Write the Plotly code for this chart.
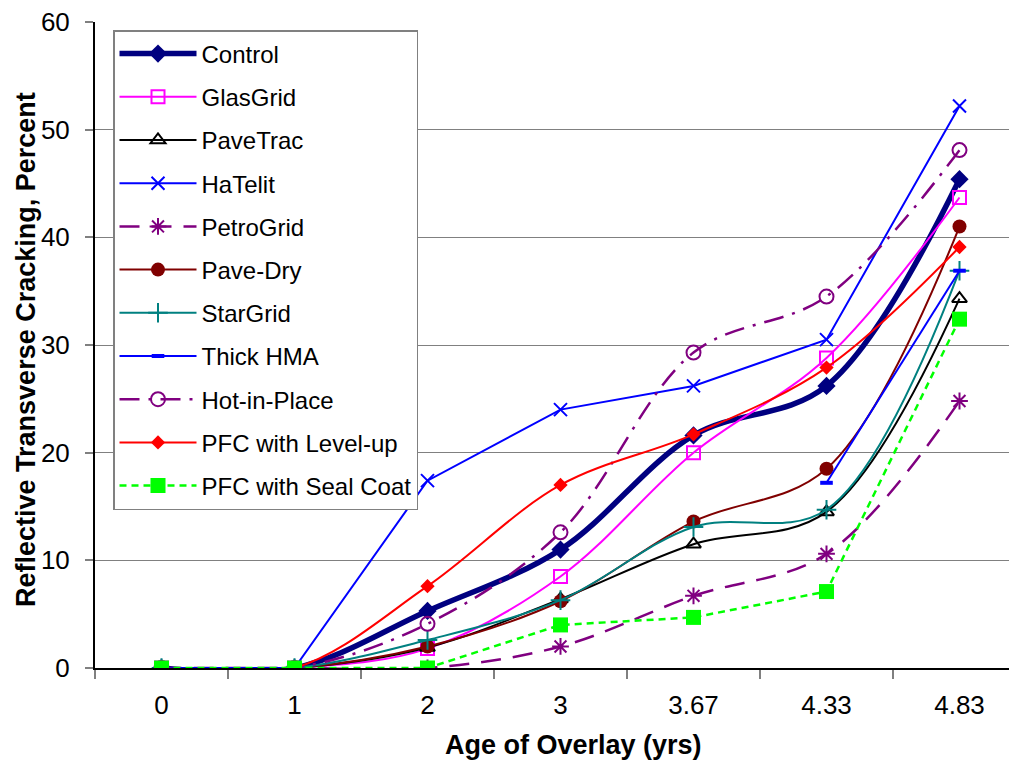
import plotly.graph_objects as go

# ---- data ----
x_labels = ["0", "1", "2", "3", "3.67", "4.33", "4.83"]
control = [0, 0, 5.3, 11.0, 21.6, 26.2, 45.4]
glasgrid = [0, 0, 1.8, 8.5, 20.0, 28.8, 43.7]
pavetrac = [0, 0, 1.9, 6.4, 11.5, 14.5, 34.3]
hatelit = [0, 0, 17.4, 24.0, 26.2, 30.5, 52.2]
petrogrid = [0, 0, 0, 2.0, 6.7, 10.6, 24.8]
pavedry = [0, 0, 2.0, 6.2, 13.6, 18.5, 41.0]
stargrid = [0, 0, 2.6, 6.3, 13.1, 14.7, 36.9]
thickhma = [0, 0, None, None, None, 17.2, 36.9]
hotinplace = [0, 0, 4.1, 12.6, 29.3, 34.5, 48.1]
pfc_levelup = [0, 0, 7.6, 17.0, 21.7, 27.9, 39.1]
pfc_sealcoat = [0, 0, 0, 4.0, 4.7, 7.1, 32.4]

y_ticks = [0, 10, 20, 30, 40, 50, 60]

series = [
    ("Control", control, dict(color="#000080", width=5.5), "spline",
     dict(symbol="diamond", size=14, color="#000080")),
    ("GlasGrid", glasgrid, dict(color="#FF00FF", width=2), "spline",
     dict(symbol="square-open", size=13, color="#FF00FF", line=dict(width=2, color="#FF00FF"))),
    ("PaveTrac", pavetrac, dict(color="#000000", width=2), "spline",
     dict(symbol="triangle-up-open", size=13, color="#000000", line=dict(width=2, color="#000000"))),
    ("HaTelit", hatelit, dict(color="#0000FF", width=2), "linear",
     dict(symbol="x-thin-open", size=13, color="#0000FF", line=dict(width=2, color="#0000FF"))),
    ("PetroGrid", petrogrid, dict(color="#800080", width=2.5, dash="20px,12px"), "spline",
     dict(symbol="asterisk-open", size=14, color="#800080", line=dict(width=2, color="#800080"))),
    ("Pave-Dry", pavedry, dict(color="#800000", width=2), "spline",
     dict(symbol="circle", size=14, color="#800000")),
    ("StarGrid", stargrid, dict(color="#008080", width=2), "spline",
     dict(symbol="cross-thin-open", size=14, color="#008080", line=dict(width=2, color="#008080"))),
    ("Thick HMA", thickhma, dict(color="#0000FF", width=2), "linear",
     dict(symbol="line-ew-open", size=9, color="#0000FF", line=dict(width=4, color="#0000FF"))),
    ("Hot-in-Place", hotinplace, dict(color="#800080", width=2.5, dash="20px,9px,3px,9px"), "spline",
     dict(symbol="circle-open", size=14, color="#800080", line=dict(width=2, color="#800080"))),
    ("PFC with Level-up", pfc_levelup, dict(color="#FF0000", width=2), "spline",
     dict(symbol="diamond", size=11, color="#FF0000")),
    ("PFC with Seal Coat", pfc_sealcoat, dict(color="#00FF00", width=2.5, dash="7px,5px"), "linear",
     dict(symbol="square", size=15, color="#00FF00")),
]

fig = go.Figure()
for i, (name, vals, line, shape, marker) in enumerate(series):
    line = dict(line)
    line["shape"] = shape
    if shape == "spline":
        line["smoothing"] = 1.0
    fig.add_trace(go.Scatter(
        x=x_labels, y=vals, name=name, mode="lines+markers",
        line=line, marker=marker, connectgaps=False,
        legendgroup="g%d" % i,
    ))

font_family = "Liberation Sans, Arial, sans-serif"

# page body has an 8px margin; the figure is sized to fill the rest of the window
fig.update_layout(
    width=1009, height=754,
    margin=dict(l=87, r=0, t=14, b=94),
    paper_bgcolor="white", plot_bgcolor="white",
    font=dict(family=font_family, size=24, color="black"),
    showlegend=True,
    legend=dict(
        x=(113 - 95) / 922, y=(668 - 30) / 646, xanchor="left", yanchor="top",
        bgcolor="white", bordercolor="#808080", borderwidth=1.5,
        font=dict(family=font_family, size=24, color="black"),
        itemwidth=77, tracegroupgap=9,
    ),
    xaxis=dict(
        type="category", categoryorder="array", categoryarray=x_labels,
        range=[-0.5, -0.5 + 922 / 133],
        showgrid=False, showline=True, linecolor="black", linewidth=2,
        ticks="outside", tickson="boundaries", ticklen=9, tickcolor="#808080", tickwidth=2,
        tickfont=dict(family=font_family, size=26), zeroline=False,
        ticklabelstandoff=13, ticklabeloverflow="allow",
    ),
    yaxis=dict(
        range=[0, 60], tickvals=y_ticks, ticktext=[str(v) for v in y_ticks],
        showgrid=True, gridcolor="#808080", gridwidth=1,
        showline=True, linecolor="black", linewidth=2,
        ticks="outside", ticklen=8, tickcolor="#808080", tickwidth=2,
        tickfont=dict(family=font_family, size=26), zeroline=False,
        ticklabelstandoff=10, ticklabeloverflow="allow",
    ),
    annotations=[
        dict(text="<b>Age of Overlay (yrs)</b>", xref="paper", yref="paper",
             x=(573 - 95) / 922, y=(668 - 745) / 646, xanchor="center", yanchor="middle",
             showarrow=False, font=dict(family=font_family, size=27, color="black")),
        dict(text="<b>Reflective Transverse Cracking, Percent</b>", xref="paper", yref="paper",
             x=(26 - 95) / 922, y=(668 - 350) / 646, xanchor="center", yanchor="middle",
             textangle=-90, showarrow=False,
             font=dict(family=font_family, size=27, color="black")),
    ],
)

fig.write_html("out.html")
